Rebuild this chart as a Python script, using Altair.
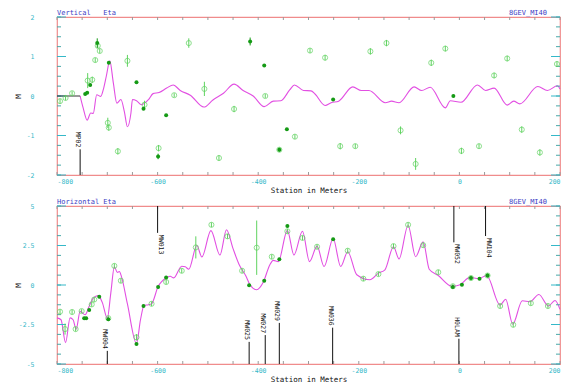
import altair as alt
import pandas as pd
import numpy as np

W, H = 503, 158
XMIN, XMAX = -800, 200
FONT = "DejaVu Sans Mono"
LINE_C = "#e24fe2"
OPEN_C = "#5fd35f"
FILL_C = "#159a15"
TITLE_C = "#3b3bc4"
LABEL_C = "#35b8c8"
TICK_C = "#49a8a8"

# ---------------- Vertical Eta (top panel) ----------------
v_line_x = [-754, -748, -740, -733, -728, -721, -713, -708, -702, -695, -688, -681, -673, -666, -660,
            -653, -650, -642, -632, -618, -609, -597, -582, -569, -555, -535, -508, -490, -469, -448,
            -430, -410, -388, -370, -355, -337, -328, -310, -295, -287, -267, -255, -240, -212, -195,
            -180, -147, -135, -120, -90, -75, -58, -28, -18, 3, 36, 52, 69, 95, 108, 120, 156, 175, 195, 200]
v_line_y = [0.0, -0.3, -0.61, -0.43, -0.44, 0.03, -0.01, 0.16, 0.5, 0.89, 0.33, -0.18, -0.09, -0.4, -0.78,
            -0.43, -0.09, -0.12, -0.22, -0.09, 0.06, 0.09, 0.2, 0.28, 0.14, 0.02, -0.28, -0.1, 0.07, 0.3,
            0.14, 0.0, -0.27, -0.13, -0.12, 0.16, 0.28, 0.14, 0.13, 0.05, -0.24, -0.17, -0.13, 0.23, 0.14,
            0.14, -0.17, -0.13, -0.17, 0.23, 0.14, 0.22, -0.3, -0.12, -0.16, 0.28, 0.14, 0.2, -0.23, -0.13, -0.2, 0.24, 0.14, 0.26, 0.18]
v_flat_x = [-800, -754]
v_flat_y = [0.0, 0.0]
v_open_x = [-794, -783, -770, -739, -730, -724, -719, -715, -699, -697, -679, -660, -626, -598, -567,
            -538, -507, -478, -448, -386, -358, -327, -297, -267, -237, -207, -177, -145, -117, -87,
            -56, -28, 4, 39, 69, 95, 124, 160, 194]
v_open_y = [-0.13, -0.05, 0.07, 0.39, 0.41, 0.91, 1.27, 1.14, -0.68, -0.80, -1.40, 0.89, -0.22, -1.32, 0.02,
            1.34, 0.18, -1.57, -0.33, 0.0, -1.36, -1.03, 1.15, 0.97, -1.27, -1.27, 1.13, 1.34, -0.87, -1.72,
            0.84, 1.2, -1.39, -1.27, 0.52, 0.95, -0.85, -1.43, 0.81]
v_open_err = [0.06, 0.06, 0.05, 0.19, 0.08, 0.06, 0.06, 0.06, 0.13, 0.08, 0.08, 0.15, 0.1, 0.08, 0.05,
              0.12, 0.18, 0.07, 0.08, 0.05, 0.06, 0.06, 0.06, 0.07, 0.08, 0.06, 0.08, 0.08, 0.1, 0.15,
              0.08, 0.07, 0.08, 0.06, 0.07, 0.07, 0.08, 0.08, 0.07]
v_fill_x = [-744, -740, -734, -720, -697, -642, -628, -599, -583, -416, -388, -343, -358, -251, -12]
v_fill_y = [0.05, 0.08, 0.28, 1.34, 0.84, 0.35, -0.32, -1.53, -0.49, 1.38, 0.77, -0.84, -1.36, -0.09, 0.0]
v_fill_err = [0.03, 0.03, 0.03, 0.12, 0.03, 0.03, 0.03, 0.07, 0.03, 0.1, 0.03, 0.03, 0.03, 0.03, 0.03]
v_mark_up_name = ["MP02"]
v_mark_up_x = [-754]
v_mark_up_end = [-1.35]

# ---------------- Horizontal Eta (bottom panel) ----------------
h_line_x = [-800, -792, -783, -774, -768, -762, -754, -744, -736, -728, -718, -710, -700, -693, -686,
            -680, -676, -672, -660, -642, -634, -627, -618, -612, -599, -582, -575, -568, -552, -545,
            -538, -522, -512, -494, -476, -463, -450, -438, -425, -416, -403, -390, -377, -370, -360,
            -342, -329, -312, -298, -283, -269, -251, -236, -222, -204, -178, -161, -148, -131, -120,
            -102, -87, -72, -60, -42, -15, 0, 21, 38, 54, 81, 92, 106, 125, 140, 158, 177, 190, 200]
h_line_y = [-2.08, -2.2, -3.65, -2.08, -2.2, -2.8, -1.67, -1.88, -1.35, -0.83, -0.67, -1.1, -2.1, -0.5, 1.15,
            0.8, 0.85, 0.55, -1.2, -3.7, -2.2, -1.3, -1.25, -1.19, -0.1, 0.46, 0.55, 0.45, 1.19, 1.15,
            1.0, 2.5, 1.77, 3.44, 1.9, 3.5, 2.3, 1.3, 0.6, 0.0, -0.3, 0.17, 1.27, 1.56, 1.48,
            3.46, 1.9, 3.4, 1.48, 2.46, 1.17, 2.94, 1.17, 2.1, 0.65, 0.33, 0.75, 0.96, 2.42, 1.65,
            3.77, 1.79, 2.73, 1.0, 0.6, -0.08, 0.0, 0.48, 0.4, 0.6, -1.27, -0.9, -2.48, -1.0, -1.06, -0.6, -1.33, -0.98, -1.54]
h_open_x = [-794, -784, -770, -763, -751, -731, -726, -698, -686, -673, -642, -612, -583, -552, -524,
            -493, -461, -432, -403, -373, -342, -312, -283, -222, -191, -161, -131, -102, -72, -42,
            -13, 23, 56, 81, 107, 142, 176]
h_open_y = [-1.69, -2.79, -1.71, -2.79, -1.65, -1.23, -0.92, -2.1, 1.21, 0.27, -3.31, -1.19, 0.19, 0.9, 2.38,
            3.81, 3.08, 0.9, 2.36, 1.79, 3.4, 2.98, 2.42, 2.17, 0.4, 0.69, 2.46, 3.81, 2.52, 0.81,
            -0.08, 0.44, 0.6, -1.33, -2.52, -1.15, -1.33]
h_open_err = [0.15, 0.35, 0.15, 0.15, 0.12, 0.15, 0.15, 0.15, 0.15, 0.15, 0.2, 0.15, 0.15, 0.15, 0.7,
              0.15, 0.15, 0.15, 1.72, 0.15, 0.15, 0.15, 0.15, 0.15, 0.15, 0.15, 0.15, 0.15, 0.15, 0.15,
              0.15, 0.15, 0.15, 0.15, 0.15, 0.15, 0.15]
h_fill_x = [-746, -742, -736, -716, -698, -642, -628, -599, -583, -418, -388, -358, -342, -251, -13, 5, 23, 40, 56]
h_fill_y = [-2.1, -2.1, -1.58, -0.75, -2.17, -3.73, -1.33, -0.13, 0.48, -0.02, 0.27, 1.63, 3.73, 2.9, -0.12, 0.02, 0.44, 0.4, 0.6]
h_fill_err = [0.08] * len(h_fill_x)
h_mark_down_name = ["MW013", "MW052", "MW104"]
h_mark_down_x = [-600, -11, 52]
h_mark_down_end = [3.3, 2.7, 3.1]
h_mark_up_name = ["MW004", "MW025", "MW027", "MW029", "MW036", "H0LAM"]
h_mark_up_x = [-700, -418, -386, -358, -252, -1]
h_mark_up_end = [-4.17, -3.6, -3.17, -2.4, -2.7, -3.4]


def panel(title, ymin, ymax, ylabels, minor_step,
          line_x, line_y, open_x, open_y, open_err, fill_x, fill_y, fill_err,
          up=None, down=None, flat=None):
    xs = alt.Scale(domain=[XMIN, XMAX], nice=False, zero=False)
    ys = alt.Scale(domain=[ymin, ymax], nice=False, zero=False)
    xaxis = alt.Axis(values=[-800, -600, -400, -200, 0, 200], title="Station in Meters",
                     labelExpr="'' + datum.value",
                     ticks=False, domain=False, grid=False, labelPadding=3, titlePadding=2,
                     labelFont=FONT, labelFontSize=6.5, labelColor=LABEL_C,
                     titleFont=FONT, titleFontSize=7.5, titleColor="#111111", titleFontWeight="normal")
    yaxis = alt.Axis(values=ylabels, title="M", ticks=False, domain=False, grid=False,
                     labelExpr="'' + datum.value",
                     labelPadding=23, titleX=-35, titleY=H / 2, titleAngle=-90,
                     labelFont=FONT, labelFontSize=6.5, labelColor=LABEL_C,
                     titleFont=FONT, titleFontSize=7.5, titleColor="#111111", titleFontWeight="normal")

    def X(f):
        return alt.X(f, type="quantitative", scale=xs, axis=xaxis)

    def Y(f):
        return alt.Y(f, type="quantitative", scale=ys, axis=yaxis)

    layers = []
    line_df = pd.DataFrame({"x": line_x, "y": line_y})
    layers.append(alt.Chart(line_df).mark_line(color=LINE_C, strokeWidth=1.1, interpolate="monotone").encode(
        x=X("x"), y=Y("y")))

    # ticks (inside the frame)
    xt = pd.DataFrame({"x": np.arange(XMIN, XMAX + 1, 50)})
    for y0, y1 in [(0, 3), (H, H - 3)]:
        layers.append(alt.Chart(xt).mark_rule(color="#9a9a9a", strokeWidth=1).encode(
            x=X("x"), y=alt.value(y0), y2=alt.value(y1)))
    yt = pd.DataFrame({"y": np.arange(ymin, ymax + 1e-9, minor_step)})
    ytm = pd.DataFrame({"y": ylabels})
    for x0, x1 in [(0, 4), (W, W - 4)]:
        layers.append(alt.Chart(yt).mark_rule(color=TICK_C, strokeWidth=1).encode(
            y=Y("y"), x=alt.value(x0), x2=alt.value(x1)))
    for x0, x1 in [(0, 9), (W, W - 9)]:
        layers.append(alt.Chart(ytm).mark_rule(color=LABEL_C, strokeWidth=1).encode(
            y=Y("y"), x=alt.value(x0), x2=alt.value(x1)))

    if flat is not None:
        fdf = pd.DataFrame({"x": flat[0], "y": flat[1]})
        layers.append(alt.Chart(fdf).mark_line(color="#333333", strokeWidth=1).encode(
            x=X("x"), y=Y("y")))

    odf = pd.DataFrame({"x": open_x, "y": open_y, "e": open_err})
    odf["lo"] = odf["y"] - odf["e"]
    odf["hi"] = odf["y"] + odf["e"]
    fdf2 = pd.DataFrame({"x": fill_x, "y": fill_y, "e": fill_err})
    fdf2["lo"] = fdf2["y"] - fdf2["e"]
    fdf2["hi"] = fdf2["y"] + fdf2["e"]

    layers.append(alt.Chart(odf).mark_rule(color=OPEN_C, strokeWidth=1).encode(
        x=X("x"), y=Y("lo"), y2="hi:Q"))
    layers.append(alt.Chart(odf).mark_point(shape="circle", filled=False, color=OPEN_C, size=26, strokeWidth=1).encode(
        x=X("x"), y=Y("y")))
    layers.append(alt.Chart(fdf2).mark_rule(color=FILL_C, strokeWidth=1).encode(
        x=X("x"), y=Y("lo"), y2="hi:Q"))
    layers.append(alt.Chart(fdf2).mark_point(shape="circle", filled=True, color=FILL_C, size=16, opacity=1).encode(
        x=X("x"), y=Y("y")))

    if up is not None:
        udf = pd.DataFrame({"x": up[1], "y": up[2], "name": up[0]})
        layers.append(alt.Chart(udf).mark_rule(color="#111111", strokeWidth=1).encode(
            x=X("x"), y=Y("y"), y2=alt.datum(ymin)))
        layers.append(alt.Chart(udf).mark_text(angle=90, align="right", baseline="middle", dx=-2, dy=2,
                                               font=FONT, fontSize=6.5, color="#111111").encode(
            x=X("x"), y=Y("y"), text="name:N"))
    if down is not None:
        ddf = pd.DataFrame({"x": down[1], "y": down[2], "name": down[0]})
        layers.append(alt.Chart(ddf).mark_rule(color="#111111", strokeWidth=1).encode(
            x=X("x"), y=Y("y"), y2=alt.datum(ymax)))
        layers.append(alt.Chart(ddf).mark_text(angle=90, align="left", baseline="middle", dx=2, dy=-3,
                                               font=FONT, fontSize=6.5, color="#111111").encode(
            x=X("x"), y=Y("y"), text="name:N"))

    tl = pd.DataFrame({"t": [title]})
    tr = pd.DataFrame({"t": ["8GEV_MI40"]})
    layers.append(alt.Chart(tl).mark_text(align="left", baseline="bottom", font=FONT, fontSize=7,
                                          color=TITLE_C).encode(x=alt.value(0), y=alt.value(-1), text="t:N"))
    layers.append(alt.Chart(tr).mark_text(align="right", baseline="bottom", font=FONT, fontSize=7,
                                          color=TITLE_C).encode(x=alt.value(W - 13), y=alt.value(-1), text="t:N"))

    return alt.layer(*layers).properties(width=W, height=H)


top = panel("Vertical\u00a0\u00a0\u00a0Eta", -2, 2, [-2, -1, 0, 1, 2], 0.25,
            v_line_x, v_line_y, v_open_x, v_open_y, v_open_err, v_fill_x, v_fill_y, v_fill_err,
            up=(v_mark_up_name, v_mark_up_x, v_mark_up_end), flat=(v_flat_x, v_flat_y))
bottom = panel("Horizontal\u00a0Eta", -5, 5, [-5, -2.5, 0, 2.5, 5], 0.625,
               h_line_x, h_line_y, h_open_x, h_open_y, h_open_err, h_fill_x, h_fill_y, h_fill_err,
               up=(h_mark_up_name, h_mark_up_x, h_mark_up_end),
               down=(h_mark_down_name, h_mark_down_x, h_mark_down_end))

chart = alt.vconcat(top, bottom, spacing=2).properties(
    padding={"left": 5, "top": 0, "right": 0, "bottom": 0},
    background="white",
).configure_view(stroke="#f08c8c", strokeWidth=1.2)

chart.save("out.html", embed_options={"renderer": "svg", "actions": False})
